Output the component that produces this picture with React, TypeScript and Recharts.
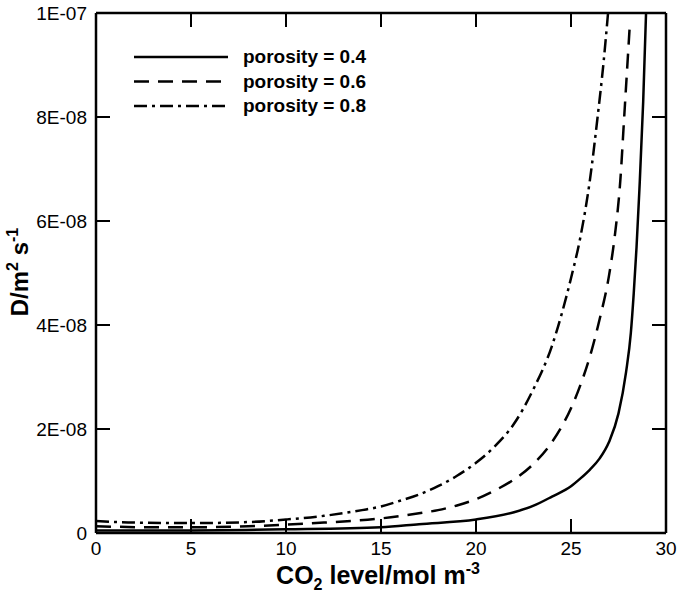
import React from 'react';
import { LineChart, Line, XAxis, YAxis, Legend, Label } from 'recharts';

// CO2 level (mol m^-3) and D, D in units of 1E-09 m^2 s^-1
const x04 = [0, 5, 10, 15, 17, 20, 22, 23, 24, 25, 25.5, 26, 26.5, 27, 27.5, 27.9, 28.15, 28.3, 28.45, 28.6, 28.8, 28.95];
const d04 = [0.5, 0.5, 0.7, 1.1, 1.7, 2.6, 4.0, 5.2, 7.0, 9.0, 10.5, 12.2, 14.3, 17.5, 23, 31, 38.5, 46, 55, 66, 83, 100];

const x06 = [0, 3, 5, 8, 10, 12, 15, 17, 18, 19, 20, 21, 22, 23, 24, 25, 25.5, 26, 26.5, 27, 27.3, 27.6, 27.8, 28, 28.1];
const d06 = [1.3, 1.1, 1.1, 1.3, 1.6, 2.0, 2.8, 3.8, 4.4, 5.3, 6.5, 8.2, 10.3, 13.2, 17.5, 24, 28.5, 34, 41, 49.5, 57, 68, 80, 92, 98];

const x08 = [0, 2, 5, 8, 10, 12, 14, 15, 16, 17, 18, 19, 20, 21, 22, 23, 24, 24.5, 25, 25.5, 26, 26.4, 26.7, 26.95];
const d08 = [2.3, 2.0, 1.9, 2.1, 2.6, 3.3, 4.4, 5.1, 6.2, 7.4, 9.0, 11, 13.5, 16.7, 21, 27.5, 36, 42, 49, 57, 68, 80, 90, 100];

const seriesNames = ['porosity = 0.4', 'porosity = 0.6', 'porosity = 0.8'];
const seriesDash = ['', '15 9', '13 5 3 5'];

const xTicks = [0, 5, 10, 15, 20, 25, 30];
const yTicks = [0, 2e-8, 4e-8, 6e-8, 8e-8, 1e-7];
const yTickLabels = ['0', '2E-08', '4E-08', '6E-08', '8E-08', '1E-07'];

const toRows = (xs: number[], ds: number[]) => xs.map((x, i) => ({ x, y: ds[i] * 1e-9 }));
const series = [toRows(x04, d04), toRows(x06, d06), toRows(x08, d08)];

const W = 678;
const H = 594;
const M = { top: 12, right: 11, bottom: 0, left: 0 };
const Y_AXIS_W = 96;
const X_AXIS_H = 61;
const PLOT_TOP = M.top + 1;
const PLOT_RIGHT = W - M.right - 1;
const PLOT_W = PLOT_RIGHT - Y_AXIS_W;
const PLOT_H = H - X_AXIS_H - PLOT_TOP;

const X_MAX = 30;
const Y_MAX = 1e-7;

const FONT = "'Liberation Sans', Arial, sans-serif";
const TICK_LEN = 14;
const GAP = 9;
const axisLine = { stroke: 'black', strokeWidth: 2.5 };

// inward tick marks, drawn as two-point series so they go through the chart scales
const TICK_DX = (X_MAX * TICK_LEN) / PLOT_W;
const TICK_DY = (Y_MAX * TICK_LEN) / PLOT_H;
const innerX = xTicks.slice(1, -1);
const innerY = yTicks.slice(1, -1);
const tickMarks = [
  ...innerX.map((v) => [{ x: v, y: 0 }, { x: v, y: TICK_DY }]),
  ...innerX.map((v) => [{ x: v, y: Y_MAX }, { x: v, y: Y_MAX - TICK_DY }]),
  ...innerY.map((v) => [{ x: 0, y: v }, { x: TICK_DX, y: v }]),
  ...innerY.map((v) => [{ x: X_MAX, y: v }, { x: X_MAX - TICK_DX, y: v }]),
];

const bottomTick = (p: any) => (
  <text key={`b${p.index}`} x={p.x} y={p.y} dy="0.71em" textAnchor="middle" fontSize={19} fontFamily={FONT} fill="black">
    {p.payload.value}
  </text>
);

const leftTick = (p: any) => (
  <text key={`l${p.index}`} x={p.x} y={p.y} dy="0.355em" textAnchor="end" fontSize={19} fontFamily={FONT} fill="black">
    {yTickLabels[p.index]}
  </text>
);

const LegendBox = () => (
  <svg width={300} height={75} style={{ display: 'block' }}>
    {seriesNames.map((name, i) => {
      const y = 13 + i * 24.5;
      return (
        <g key={name}>
          <line x1={8} x2={102} y1={y} y2={y} stroke="black" strokeWidth={2.5} strokeDasharray={seriesDash[i] || undefined} />
          <text x={117} y={y + 6} fontSize={19} fontWeight="bold" fontFamily={FONT} fill="black">
            {name}
          </text>
        </g>
      );
    })}
  </svg>
);

const xTitle = () => (
  <text x={378} y={584} textAnchor="middle" fontSize={25} fontWeight="bold" fontFamily={FONT} fill="black">
    CO<tspan fontSize={16} dy={6}>2</tspan>
    <tspan dy={-6}> level/mol m</tspan>
    <tspan fontSize={16} dy={-10}>-3</tspan>
  </text>
);

const yTitle = () => (
  <text x={28} y={272} transform="rotate(-90, 28, 272)" textAnchor="middle" fontSize={24} fontWeight="bold" fontFamily={FONT} fill="black">
    D/m<tspan fontSize={16} dy={-10}>2</tspan>
    <tspan dy={10}> s</tspan>
    <tspan fontSize={16} dy={-10}>-1</tspan>
  </text>
);

export default function App() {
  return (
    <div style={{ position: 'absolute', left: 0, top: 0, width: W, height: H }}>
      <LineChart width={W} height={H} margin={M}>
        <XAxis xAxisId="b" dataKey="x" type="number" domain={[0, X_MAX]} ticks={xTicks} height={X_AXIS_H} tickLine={false} tickSize={0} tickMargin={GAP} tick={bottomTick} axisLine={axisLine} interval={0}>
          <Label content={xTitle} />
        </XAxis>
        <XAxis xAxisId="t" orientation="top" dataKey="x" type="number" domain={[0, X_MAX]} ticks={xTicks} height={1} tickLine={false} tickSize={0} tick={false} axisLine={axisLine} />
        <YAxis yAxisId="l" type="number" domain={[0, Y_MAX]} ticks={yTicks} width={Y_AXIS_W} tickLine={false} tickSize={0} tickMargin={GAP} tick={leftTick} axisLine={axisLine} interval={0}>
          <Label content={yTitle} />
        </YAxis>
        <YAxis yAxisId="r" orientation="right" type="number" domain={[0, Y_MAX]} ticks={yTicks} width={1} tickLine={false} tickSize={0} tick={false} axisLine={axisLine} />
        <Legend layout="horizontal" align="center" verticalAlign="middle" content={<LegendBox />} wrapperStyle={{ left: 126, top: 44, width: 300, height: 75 }} />
        {tickMarks.map((seg, i) => (
          <Line
            key={`tick${i}`}
            xAxisId="b"
            yAxisId="l"
            data={seg}
            dataKey="y"
            type="linear"
            stroke="black"
            strokeWidth={2}
            dot={false}
            activeDot={false}
            legendType="none"
            isAnimationActive={false}
          />
        ))}
        {series.map((rows, i) => (
          <Line
            key={seriesNames[i]}
            xAxisId="b"
            yAxisId="l"
            data={rows}
            dataKey="y"
            name={seriesNames[i]}
            type="monotone"
            stroke="black"
            strokeWidth={2.5}
            strokeDasharray={seriesDash[i] || undefined}
            dot={false}
            activeDot={false}
            isAnimationActive={false}
          />
        ))}
      </LineChart>
    </div>
  );
}
